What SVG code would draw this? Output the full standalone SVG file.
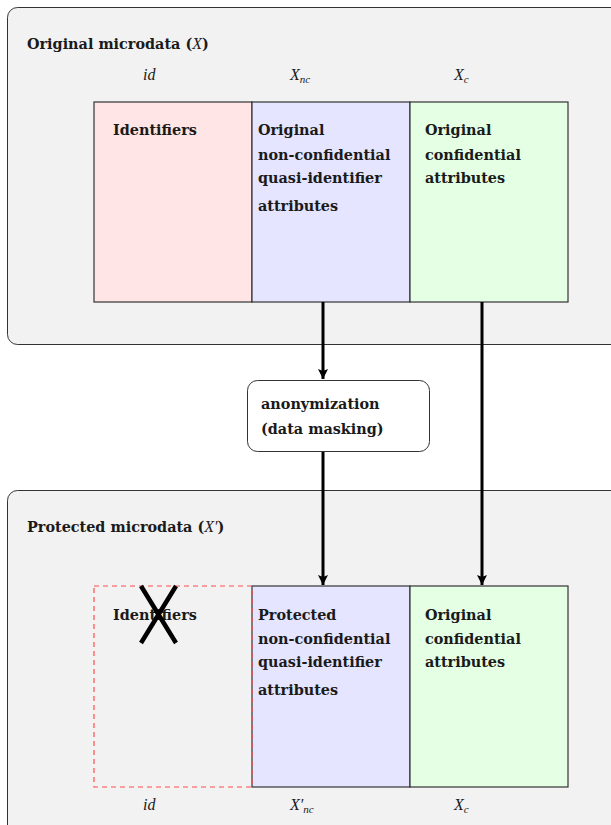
<svg xmlns="http://www.w3.org/2000/svg" width="611" height="825" viewBox="0 0 611 825">
<style>
.panel{fill:#f2f2f2;stroke:#333;stroke-width:1}
.cell{stroke:#333;stroke-width:1.2}
.t{font-family:"DejaVu Serif","Liberation Serif",serif;font-weight:bold;font-size:14.4px;fill:#1a1a1a}
.m{font-family:"Liberation Serif","DejaVu Serif",serif;font-style:italic;font-size:16px;fill:#1a1a1a}
.s{font-size:11px}
.conn{stroke:#000;stroke-width:3;fill:none}
</style>
<defs>
<marker id="ah" viewBox="0 0 10 12" refX="10" refY="6" markerWidth="10" markerHeight="12" markerUnits="userSpaceOnUse" orient="auto">
<path d="M0,1 L10,6 L0,11 L2,6 Z" fill="#000"/>
</marker>
</defs>
<g id="original-panel">
<rect class="panel" x="7.5" y="7.5" width="620" height="337" rx="10"/>
<text class="t" x="27" y="49">Original microdata (<tspan class="m" font-weight="normal">X</tspan>)</text>
<text class="m" x="143" y="80">id</text>
<text class="m" x="290" y="80">X<tspan class="s" dy="3">nc</tspan></text>
<text class="m" x="454" y="80">X<tspan class="s" dy="3">c</tspan></text>
</g>
<g id="orig-identifiers">
<rect class="cell" x="94" y="102" width="158" height="200" fill="#ffe5e5"/>
<text class="t" x="113" y="135">Identifiers</text>
</g>
<g id="orig-quasi">
<rect class="cell" x="252" y="102" width="158" height="200" fill="#e5e5ff"/>
<text class="t" x="258" y="135">Original</text>
<text class="t" x="258" y="160">non-confidential</text>
<text class="t" x="258" y="183">quasi-identifier</text>
<text class="t" x="258" y="211">attributes</text>
</g>
<g id="orig-confidential">
<rect class="cell" x="410" y="102" width="158" height="200" fill="#e5ffe5"/>
<text class="t" x="425" y="135">Original</text>
<text class="t" x="425" y="160">confidential</text>
<text class="t" x="425" y="183">attributes</text>
</g>
<g id="anonymization">
<rect x="247.5" y="380.5" width="182" height="71" rx="10" fill="#fff" stroke="#333" stroke-width="1"/>
<text class="t" x="261" y="409">anonymization</text>
<text class="t" x="261" y="434">(data masking)</text>
</g>
<g id="protected-panel">
<rect class="panel" x="7.5" y="490.5" width="620" height="345" rx="10"/>
<text class="t" x="27" y="532">Protected microdata (<tspan class="m" font-weight="normal">X′</tspan>)</text>
<text class="m" x="143" y="810">id</text>
<text class="m" x="290" y="810">X′<tspan class="s" dy="3">nc</tspan></text>
<text class="m" x="454" y="810">X<tspan class="s" dy="3">c</tspan></text>
</g>
<g id="prot-quasi">
<rect class="cell" x="252" y="586" width="158" height="201" fill="#e5e5ff"/>
<text class="t" x="258" y="620">Protected</text>
<text class="t" x="258" y="644">non-confidential</text>
<text class="t" x="258" y="667">quasi-identifier</text>
<text class="t" x="258" y="695">attributes</text>
</g>
<g id="prot-confidential">
<rect class="cell" x="410" y="586" width="158" height="201" fill="#e5ffe5"/>
<text class="t" x="425" y="620">Original</text>
<text class="t" x="425" y="644">confidential</text>
<text class="t" x="425" y="667">attributes</text>
</g>
<g id="removed-identifiers">
<rect x="94" y="586" width="158" height="201" fill="none" stroke="#ff4d4d" stroke-width="1.2" stroke-dasharray="5,4"/>
<text class="t" x="113" y="620">Identifiers</text>
<path d="M141,586 L176,643 M176,586 L141,643" stroke="#000" stroke-width="4.5"/>
</g>
<g id="connectors">
<path class="conn" d="M323,302 V379" marker-end="url(#ah)"/>
<path class="conn" d="M323,452 V585" marker-end="url(#ah)"/>
<path class="conn" d="M482,302 V585" marker-end="url(#ah)"/>
</g>
</svg>
